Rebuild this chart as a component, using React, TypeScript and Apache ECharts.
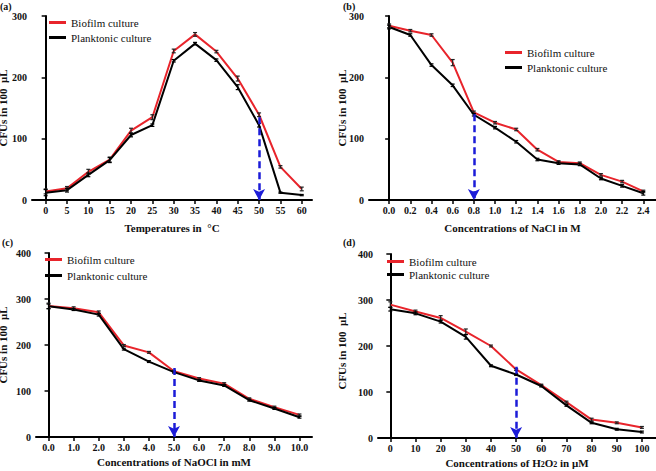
import React, { useEffect, useRef } from 'react';
import * as echarts from 'echarts';

const FONT = "'Liberation Serif', 'Times New Roman', serif";
const RED = '#e8242b';
const BLACK = '#000000';
const BLUE = '#1c1cd8';

// (a) temperature
const tempX = [0, 5, 10, 15, 20, 25, 30, 35, 40, 45, 50, 55, 60];
const tempBiofilm = [14, 19, 46, 66, 113, 135, 243, 270, 242, 198, 139, 54, 18];
const tempPlanktonic = [12, 16, 41, 65, 106, 122, 227, 255, 228, 184, 122, 12, 8];
const tempBiofilmErr = [4, 3, 4, 4, 4, 4, 3, 3, 2, 4, 3, 2, 3];
const tempPlanktonicErr = [5, 3, 3, 4, 3, 2, 2, 2, 2, 4, 3, 1, 1];
const tempArrow = [50, 135];

// (b) NaCl
const naclX = [0, 0.2, 0.4, 0.6, 0.8, 1.0, 1.2, 1.4, 1.6, 1.8, 2.0, 2.2, 2.4];
const naclBiofilm = [284, 276, 269, 224, 143, 126, 115, 82, 62, 60, 41, 30, 14];
const naclPlanktonic = [282, 269, 220, 187, 139, 118, 95, 66, 60, 58, 35, 23, 11];
const naclBiofilmErr = [3, 2, 2, 5, 2, 2, 2, 2, 2, 2, 2, 2, 2];
const naclPlanktonicErr = [3, 2, 2, 2, 2, 2, 2, 2, 2, 2, 2, 2, 3];
const naclArrow = [0.8, 140];

// (c) NaOCl
const naoclX = [0, 1, 2, 3, 4, 5, 6, 7, 8, 9, 10];
const naoclBiofilm = [285, 280, 271, 199, 184, 143, 127, 116, 83, 65, 48];
const naoclPlanktonic = [284, 277, 266, 191, 164, 141, 123, 112, 80, 62, 43];
const naoclBiofilmErr = [6, 3, 3, 2, 2, 2, 2, 2, 2, 2, 2];
const naoclPlanktonicErr = [5, 2, 3, 2, 2, 2, 2, 2, 2, 2, 2];
const naoclArrow = [5, 150];

// (d) H2O2
const h2o2X = [0, 10, 20, 30, 40, 50, 60, 70, 80, 90, 100];
const h2o2Biofilm = [290, 275, 261, 231, 200, 149, 115, 78, 40, 33, 23];
const h2o2Planktonic = [280, 271, 253, 220, 157, 138, 113, 71, 33, 19, 13];
const h2o2BiofilmErr = [6, 3, 5, 6, 2, 2, 2, 2, 3, 2, 2];
const h2o2PlanktonicErr = [4, 3, 3, 5, 2, 2, 2, 2, 2, 2, 2];
const h2o2Arrow = [50, 155];

const seriesNames = ['Biofilm culture', 'Planktonic culture'];
const panelLabels = ['(a)', '(b)', '(c)', '(d)'];

type Panel = {
  xs: number[];
  bio: number[];
  plank: number[];
  bioErr: number[];
  plankErr: number[];
  arrow: number[];
  xName: string;
  yMax: number;
  xMin: number;
  xMax: number;
  decimals: number;
  grid: { left: number; top: number; width: number; height: number };
  legend: { left: number; top: number; gap: number };
  label: { x: number; y: number };
  xNameGap: number;
  yNameGap: number;
  yNamePad: number[];
};

const panels: Panel[] = [
  {
    xs: tempX, bio: tempBiofilm, plank: tempPlanktonic, bioErr: tempBiofilmErr, plankErr: tempPlanktonicErr,
    arrow: tempArrow, xName: 'Temperatures in  °C', yMax: 300, xMin: -3.2, xMax: 62.4, decimals: 0,
    grid: { left: 32, top: 16, width: 280, height: 184 },
    legend: { left: 49, top: 16, gap: 2 },
    label: { x: 0, y: 1 },
    xNameGap: 22, yNameGap: 24, yNamePad: [0, 0, 0, 0],
  },
  {
    xs: naclX, bio: naclBiofilm, plank: naclPlanktonic, bioErr: naclBiofilmErr, plankErr: naclPlanktonicErr,
    arrow: naclArrow, xName: 'Concentrations of NaCl in M', yMax: 300, xMin: -0.19, xMax: 2.52, decimals: 1,
    grid: { left: 369, top: 16, width: 287, height: 184 },
    legend: { left: 505, top: 46, gap: 2 },
    label: { x: 343, y: 1 },
    xNameGap: 22, yNameGap: 22, yNamePad: [0, 0, 0, 0],
  },
  {
    xs: naoclX, bio: naoclBiofilm, plank: naoclPlanktonic, bioErr: naoclBiofilmErr, plankErr: naoclPlanktonicErr,
    arrow: naoclArrow, xName: 'Concentrations of NaOCl in mM', yMax: 400, xMin: -0.5, xMax: 10.5, decimals: 1,
    grid: { left: 36, top: 253, width: 276, height: 184 },
    legend: { left: 45, top: 253, gap: 3 },
    label: { x: 2, y: 237 },
    xNameGap: 19, yNameGap: 28, yNamePad: [0, 0, 0, 0],
  },
  {
    xs: h2o2X, bio: h2o2Biofilm, plank: h2o2Planktonic, bioErr: h2o2BiofilmErr, plankErr: h2o2PlanktonicErr,
    arrow: h2o2Arrow, xName: 'Concentrations of H{sub|2}O{sub|2} in μM', yMax: 400, xMin: -4.9, xMax: 105.6, decimals: 0,
    grid: { left: 378, top: 254, width: 278, height: 184 },
    legend: { left: 387, top: 255, gap: 0 },
    label: { x: 343, y: 237 },
    xNameGap: 19, yNameGap: 31, yNamePad: [0, 10, 0, 0],
  },
];

function errorSeries(idx: number, xs: number[], ys: number[], errs: number[], color: string) {
  return {
    type: 'custom',
    xAxisIndex: idx,
    yAxisIndex: idx,
    silent: true,
    z: 4,
    data: xs.map((x, i) => [x, ys[i], errs[i]]),
    encode: { x: 0, y: 1 },
    renderItem: (_params: any, api: any) => {
      const x = api.value(0);
      const y = api.value(1);
      const e = api.value(2);
      const t = api.coord([x, y + e]);
      const b = api.coord([x, y - e]);
      const w = 2;
      const st = { stroke: color, lineWidth: 1.2 };
      return {
        type: 'group',
        children: [
          { type: 'line', shape: { x1: t[0], y1: t[1], x2: b[0], y2: b[1] }, style: st },
          { type: 'line', shape: { x1: t[0] - w, y1: t[1], x2: t[0] + w, y2: t[1] }, style: st },
          { type: 'line', shape: { x1: b[0] - w, y1: b[1], x2: b[0] + w, y2: b[1] }, style: st },
        ],
      };
    },
  };
}

export default function App() {
  const ref = useRef<HTMLDivElement>(null);
  useEffect(() => {
    if (!ref.current) return;
    const chart = echarts.init(ref.current, null, { renderer: 'svg' });
    const grids: any[] = [];
    const xAxes: any[] = [];
    const yAxes: any[] = [];
    const series: any[] = [];
    const legends: any[] = [];
    const graphics: any[] = [];

    panels.forEach((p, i) => {
      grids.push({ ...p.grid, containLabel: false, outerBoundsMode: 'none' });
      xAxes.push({
        type: 'value',
        gridIndex: i,
        min: p.xMin,
        max: p.xMax,
        name: p.xName,
        nameLocation: 'middle',
        nameGap: p.xNameGap,
        nameMoveOverlap: false,
        nameTextStyle: {
          fontFamily: FONT, fontWeight: 'bold', fontSize: 11, color: '#111',
          rich: { sub: { fontFamily: FONT, fontWeight: 'bold', fontSize: 8, color: '#111', verticalAlign: 'bottom', padding: [3, 0, 0, 0] } },
        },
        axisLine: { show: true, onZero: false, lineStyle: { color: '#000', width: 2 } },
        axisTick: { show: true, length: 4, lineStyle: { color: '#000', width: 1.5 }, customValues: p.xs },
        axisLabel: {
          customValues: p.xs,
          formatter: (v: number) => v.toFixed(p.decimals),
          fontFamily: FONT, fontWeight: 'bold', fontSize: 10, color: '#111', margin: 5,
        },
        splitLine: { show: false },
      });
      yAxes.push({
        type: 'value',
        gridIndex: i,
        min: 0,
        max: p.yMax,
        interval: 100,
        name: 'CFUs in 100  μL',
        nameLocation: 'middle',
        nameRotate: 90,
        nameGap: p.yNameGap,
        nameMoveOverlap: false,
        nameTextStyle: { fontFamily: FONT, fontWeight: 'bold', fontSize: 11, color: '#111', padding: p.yNamePad },
        axisLine: { show: true, lineStyle: { color: '#000', width: 2 } },
        axisTick: { show: true, length: 4, lineStyle: { color: '#000', width: 1.5 } },
        axisLabel: { fontFamily: FONT, fontWeight: 'bold', fontSize: 10, color: '#111', margin: 5 },
        splitLine: { show: false },
      });
      series.push({
        type: 'line',
        name: seriesNames[0],
        xAxisIndex: i,
        yAxisIndex: i,
        data: p.xs.map((x, k) => [x, p.bio[k]]),
        symbol: 'none',
        lineStyle: { color: RED, width: 2 },
        itemStyle: { color: RED },
        z: 2,
        markLine: {
          silent: true,
          symbol: ['none', 'arrow'],
          symbolSize: [9, 11],
          label: { show: false },
          lineStyle: { color: BLUE, width: 2.5, type: [7, 4] },
          data: [[{ coord: [p.arrow[0], p.arrow[1]] }, { coord: [p.arrow[0], 0] }]],
        },
      });
      series.push({
        type: 'line',
        name: seriesNames[1],
        xAxisIndex: i,
        yAxisIndex: i,
        data: p.xs.map((x, k) => [x, p.plank[k]]),
        symbol: 'none',
        lineStyle: { color: BLACK, width: 2 },
        itemStyle: { color: BLACK },
        z: 3,
      });
      series.push(errorSeries(i, p.xs, p.bio, p.bioErr, '#222'));
      series.push(errorSeries(i, p.xs, p.plank, p.plankErr, '#000'));
      legends.push({
        data: seriesNames,
        orient: 'vertical',
        left: p.legend.left,
        top: p.legend.top,
        itemGap: p.legend.gap,
        itemWidth: 17,
        itemHeight: 3,
        icon: 'rect',
        padding: 0,
        textStyle: { fontFamily: FONT, fontSize: 11, color: '#111', lineHeight: 13 },
      });
      graphics.push({
        type: 'text',
        left: p.label.x,
        top: p.label.y,
        style: { text: panelLabels[i], font: `bold 10px ${FONT}`, fill: '#111' },
      });
    });

    chart.setOption({
      animation: false,
      backgroundColor: '#ffffff',
      grid: grids,
      xAxis: xAxes,
      yAxis: yAxes,
      series,
      legend: legends,
      graphic: graphics,
    });
    return () => chart.dispose();
  }, []);
  return <div ref={ref} style={{ position: 'fixed', left: 0, top: 0, width: 656, height: 471 }} />;
}
